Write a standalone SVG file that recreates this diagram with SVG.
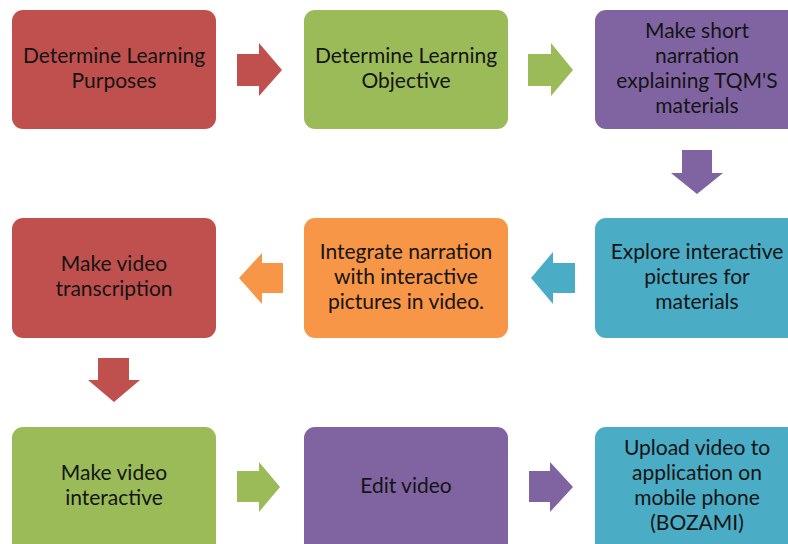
<svg xmlns="http://www.w3.org/2000/svg" width="788" height="544" viewBox="0 0 788 544">
<style>
.box{stroke:none}
.red{fill:#C0504D}.green{fill:#9BBB59}.purple{fill:#8064A2}.blue{fill:#4BACC6}.orange{fill:#F79646}
text{font-family:Lato,"Liberation Sans",sans-serif;font-size:21px;fill:#141414;text-anchor:middle}
</style>
<rect width="788" height="544" fill="#ffffff"/>
<g id="n1"><rect class="box red" x="12" y="10" width="204" height="119" rx="11"/>
<text x="114" y="63">Determine Learning</text><text x="114" y="88">Purposes</text></g>
<g id="n2"><rect class="box green" x="304" y="10" width="204" height="119" rx="11"/>
<text x="406" y="63">Determine Learning</text><text x="406" y="88">Objective</text></g>
<g id="n3"><rect class="box purple" x="595" y="10" width="204" height="119" rx="11"/>
<text x="697" y="38">Make short</text><text x="697" y="63">narration</text><text x="697" y="88">explaining TQM'S</text><text x="697" y="113">materials</text></g>
<g id="n4"><rect class="box blue" x="595" y="218" width="204" height="120" rx="11"/>
<text x="697" y="259">Explore interactive</text><text x="697" y="284">pictures for</text><text x="697" y="309">materials</text></g>
<g id="n5"><rect class="box orange" x="304" y="218" width="204" height="120" rx="11"/>
<text x="406" y="259">Integrate narration</text><text x="406" y="284">with interactive</text><text x="406" y="309">pictures in video.</text></g>
<g id="n6"><rect class="box red" x="12" y="218" width="204" height="120" rx="11"/>
<text x="114" y="271">Make video</text><text x="114" y="296">transcription</text></g>
<g id="n7"><rect class="box green" x="12" y="427" width="204" height="130" rx="11"/>
<text x="114" y="480">Make video</text><text x="114" y="505">interactive</text></g>
<g id="n8"><rect class="box purple" x="304" y="427" width="204" height="130" rx="11"/>
<text x="406" y="493">Edit video</text></g>
<g id="n9"><rect class="box blue" x="595" y="427" width="204" height="130" rx="11"/>
<text x="697" y="455">Upload video to</text><text x="697" y="480">application on</text><text x="697" y="505">mobile phone</text><text x="697" y="530">(BOZAMI)</text></g>
<g id="connectors">
<polygon class="red" points="237,54 259,54 259,43 282,70 259,96 259,86 237,86"/>
<polygon class="green" points="528,54 551,54 551,43 573,70 551,96 551,86 528,86"/>
<polygon class="purple" points="682,150 712,150 712,173 723,173 697,194 671,173 682,173"/>
<polygon class="blue" points="575,263 553,263 553,252 531,278 553,304 553,293 575,293"/>
<polygon class="orange" points="283,263 262,263 262,253 239,278 262,304 262,293 283,293"/>
<polygon class="red" points="98,358 129,358 129,380 140,380 114,402 88,380 98,380"/>
<polygon class="green" points="237,471 259,471 259,462 280,487 259,512 259,502 237,502"/>
<polygon class="purple" points="529,471 550,471 550,462 573,487 550,512 550,502 529,502"/>
</g>
</svg>
